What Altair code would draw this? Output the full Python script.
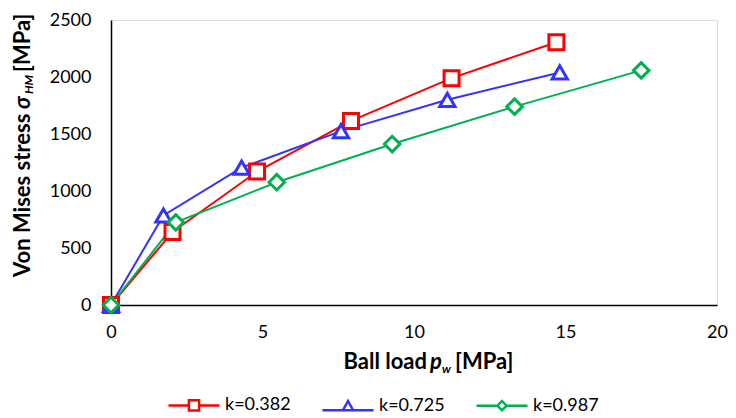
import altair as alt
import pandas as pd

# ---- data ----
series_names = ["k=0.382", "k=0.725", "k=0.987"]
x_k0382 = [0, 2.03, 4.82, 7.92, 11.24, 14.70]
y_k0382 = [0, 640, 1170, 1615, 1990, 2305]
x_k0725 = [0, 1.73, 4.31, 7.59, 11.10, 14.81]
y_k0725 = [0, 785, 1205, 1525, 1800, 2040]
x_k0987 = [0, 2.14, 5.47, 9.28, 13.32, 17.50]
y_k0987 = [0, 725, 1077, 1412, 1740, 2058]
x_ticks = [0, 5, 10, 15, 20]
y_ticks = [0, 500, 1000, 1500, 2000, 2500]

colors = ["#FF0000", "#3333FF", "#00B050"]
shapes = ["square", "triangle-up", "diamond"]
sizes = [225, 240, 190]
# legend symbols: line segment with the marker in the middle
legend_shapes = [
    "M-1,0H-0.2M0.2,0H1M-0.2,-0.2H0.2V0.2H-0.2Z",
    "M-1,0.17H-0.2M0.2,0.17H1M0,-0.19L-0.2,0.17H0.2Z",
    "M-1,0H-0.18M0.18,0H1M0,-0.18L0.18,0L0,0.18L-0.18,0Z",
]

rows = []
for name, xs, ys in zip(series_names, [x_k0382, x_k0725, x_k0987], [y_k0382, y_k0725, y_k0987]):
    for i, (xv, yv) in enumerate(zip(xs, ys)):
        rows.append({"k": name, "p": xv, "s": yv, "i": i})
df = pd.DataFrame(rows)

FONT = "Lato"
W, H = 606, 285

legend = alt.Legend(
    orient="none", legendX=56, legendY=358, direction="horizontal", title=None,
    symbolSize=2601, symbolStrokeWidth=2.5, symbolFillColor="white", symbolOpacity=1,
    labelFont=FONT, labelFontSize=18, labelColor="black",
    columnPadding=26, labelOffset=4, padding=0,
)

cscale = alt.Scale(domain=series_names, range=colors)

xenc = alt.X("p:Q", scale=alt.Scale(domain=[0, 20], nice=False),
             axis=alt.Axis(values=x_ticks, title=None, grid=False, ticks=False,
                           domainColor="black", domainWidth=1.5, labelFont=FONT,
                           labelFontSize=18, labelColor="black", labelPadding=18,
                           labelFlush=False))
yenc = alt.Y("s:Q", scale=alt.Scale(domain=[0, 2500], nice=False),
             axis=alt.Axis(values=y_ticks, title=None, grid=False, ticks=False, format="d",
                           domainColor="black", domainWidth=1.5, labelFont=FONT,
                           labelFontSize=18, labelColor="black", labelPadding=20,
                           labelFlush=False))

base = alt.Chart(df)
lines = base.mark_line(strokeWidth=2).encode(
    x=xenc, y=yenc, color=alt.Color("k:N", scale=cscale, legend=None), order="i:Q")
points = base.mark_point(filled=False, opacity=1, strokeWidth=3).encode(
    x=xenc, y=yenc, color=alt.Color("k:N", scale=cscale, legend=None),
    fill=alt.value("white"),
    shape=alt.Shape("k:N", scale=alt.Scale(domain=series_names, range=shapes), legend=None),
    size=alt.Size("k:N", scale=alt.Scale(domain=series_names, range=sizes), legend=None),
)
legend_layer = base.transform_filter("false").mark_point(filled=False, opacity=1).encode(
    x=xenc, y=yenc,
    color=alt.Color("k:N", scale=cscale, legend=legend),
    shape=alt.Shape("k:N", scale=alt.Scale(domain=series_names, range=legend_shapes), legend=legend),
)

one = pd.DataFrame({"a": [0]})


def txt(text, x, y, size, align="left", baseline="alphabetic", italic=False, angle=0):
    kw = dict(text=text, font=FONT, fontSize=size, fontWeight="bold", color="black",
              align=align, baseline=baseline, angle=angle)
    if italic:
        kw["fontStyle"] = "italic"
    return alt.Chart(one).mark_text(**kw).encode(x=alt.value(x), y=alt.value(y))


TS = 22
SS = 12
titles = [
    txt("Ball load", 316, 349, TS, align="right"),
    txt("p", 319, 349, TS, italic=True),
    txt("w", 331, 353, SS, italic=True),
    txt("[MPa]", 344, 349, TS),
    txt("Von Mises stress", -88, 257, TS, baseline="middle", angle=270),
    txt("σ", -88, 89, TS, baseline="middle", italic=True, angle=270),
    txt("HM", -82, 74, SS, baseline="middle", italic=True, angle=270),
    txt("[MPa]", -88, 52, TS, baseline="middle", angle=270),
]

chart = alt.layer(lines, points, legend_layer, *titles).resolve_scale(
    color="independent", shape="independent"
).properties(
    width=W, height=H,
    autosize=alt.AutoSizeParams(type="none"),
    padding={"left": 103, "top": 12, "right": 11, "bottom": 109},
).configure_view(stroke=None).configure(background="white")

chart.save("out.html", embed_options={"renderer": "svg", "actions": False})
